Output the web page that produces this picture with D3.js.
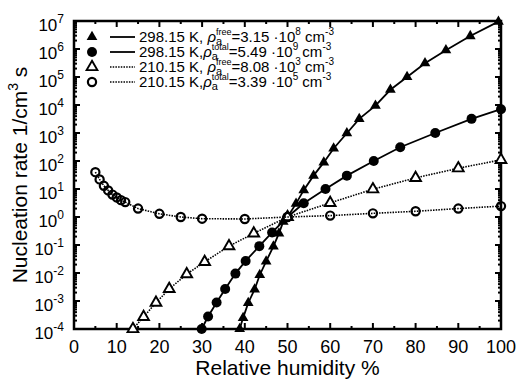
<!DOCTYPE html>
<html lang="en">
<head>
<meta charset="UTF-8">
<title>Nucleation rate vs relative humidity</title>
<script src="https://cdnjs.cloudflare.com/ajax/libs/d3/7.8.5/d3.min.js"></script>
<style>
  body { margin: 0; background: #fff; }
  svg { display: block; font-family: "Liberation Sans", Arial, Helvetica, sans-serif; }
</style>
</head>
<body>
<div id="chart"></div>
<script>
// values: relative humidity (%) and nucleation rate (1/cm^3 s)
const rhFree298 = [38.8, 39.6, 40.8, 42.3, 43.5, 45.0, 46.7, 48.0, 49.0, 50.0, 52.0, 53.8, 56.1, 58.5, 60.8, 63.9, 66.8, 70.6, 74.1, 78.0, 82.2, 87.1, 92.8, 99.4];
const jFree298  = [1e-4, 2.5e-4, 8.5e-4, 2.6e-3, 8.5e-3, 2.6e-2, 8.9e-2, 0.26, 0.68, 1, 3.0, 9.1, 30, 89, 280, 980, 3.2e3, 9.5e3, 3.5e4, 1.0e5, 3.1e5, 9.1e5, 2.9e6, 9.5e6];

const rhTotal298 = [29.9, 31.4, 33.4, 35.4, 37.8, 40.2, 43.4, 46.4, 50.0, 53.8, 58.9, 63.9, 70.2, 76.4, 84.6, 93.1, 100];
const jTotal298  = [1e-4, 2.8e-4, 8.9e-4, 2.7e-3, 9.5e-3, 2.7e-2, 9.1e-2, 0.28, 1, 3.1, 10, 30, 100, 310, 1.0e3, 3.2e3, 7.1e3];

const rhFree210 = [13.8, 16.3, 19.2, 22.3, 26.4, 30.6, 36.3, 42.1, 50, 60, 70, 80, 90, 100];
const jFree210  = [1e-4, 2.7e-4, 8.7e-4, 2.7e-3, 9.1e-3, 2.5e-2, 9.1e-2, 0.26, 1, 3.2, 9.8, 25, 55, 110];

const rhTotal210 = [5, 6, 7, 8, 9, 10, 11, 12, 15, 20, 25, 30, 40, 50, 60, 70, 80, 90, 100];
const jTotal210  = [40, 22, 13, 8.9, 6.3, 5.0, 4.0, 3.4, 2.0, 1.3, 1.0, 0.87, 0.85, 1.0, 1.12, 1.35, 1.6, 2.0, 2.45];

// legend texts (non-breaking spaces so SVG keeps them)
const legendTemp  = ["298.15\u00a0K,\u00a0", "298.15\u00a0K,", "210.15\u00a0K,\u00a0", "210.15\u00a0K,"];
const legendKind  = ["free", "total", "free", "total"];
const legendValue = ["=3.15\u00a0\u00b710", "=5.49\u00a0\u00b710", "=8.08\u00a0\u00b710", "=3.39\u00a0\u00b710"];
const legendExp   = ["8", "9", "3", "5"];

// ticks
const xTicks = [0, 10, 20, 30, 40, 50, 60, 70, 80, 90, 100];
const xMinor = [5, 15, 25, 35, 45, 55, 65, 75, 85, 95];
const yExps  = [-4, -3, -2, -1, 0, 1, 2, 3, 4, 5, 6, 7];

const width = 519, height = 379;
const m = { left: 74, right: 501, top: 21, bottom: 329 };

const svg = d3.select("#chart").append("svg")
    .attr("width", width)
    .attr("height", height);

const x = d3.scaleLinear().domain([0, 100]).range([m.left, m.right]);
const y = d3.scaleLog().domain([1e-4, 1e7]).range([m.bottom, m.top]);

// ticks, inward on all four sides
const tickG = svg.append("g").attr("stroke", "#000").attr("stroke-width", 2);
xTicks.forEach(v => {
    tickG.append("line").attr("x1", x(v)).attr("x2", x(v)).attr("y1", m.bottom).attr("y2", m.bottom - 6);
    tickG.append("line").attr("x1", x(v)).attr("x2", x(v)).attr("y1", m.top).attr("y2", m.top + 6);
});
xMinor.forEach(v => {
    tickG.append("line").attr("x1", x(v)).attr("x2", x(v)).attr("y1", m.bottom).attr("y2", m.bottom - 3);
    tickG.append("line").attr("x1", x(v)).attr("x2", x(v)).attr("y1", m.top).attr("y2", m.top + 3);
});
yExps.forEach(e => {
    const v = Math.pow(10, e);
    tickG.append("line").attr("x1", m.left).attr("x2", m.left + 6).attr("y1", y(v)).attr("y2", y(v));
    tickG.append("line").attr("x1", m.right).attr("x2", m.right - 6).attr("y1", y(v)).attr("y2", y(v));
    if (e < 7) {
        for (let k = 2; k <= 9; k++) {
            const w = k * v;
            tickG.append("line").attr("x1", m.left).attr("x2", m.left + 3).attr("y1", y(w)).attr("y2", y(w));
            tickG.append("line").attr("x1", m.right).attr("x2", m.right - 3).attr("y1", y(w)).attr("y2", y(w));
        }
    }
});

// frame
svg.append("rect")
    .attr("x", m.left).attr("y", m.top)
    .attr("width", m.right - m.left).attr("height", m.bottom - m.top)
    .attr("fill", "none").attr("stroke", "#000").attr("stroke-width", 2.5);

// tick labels
svg.append("g").selectAll("text")
    .data(xTicks)
    .enter().append("text")
    .attr("x", d => x(d))
    .attr("y", 353)
    .attr("text-anchor", "middle")
    .attr("font-size", 18)
    .text(d => d);

const yLab = svg.append("g").selectAll("text")
    .data(yExps)
    .enter().append("text")
    .attr("x", 64)
    .attr("y", d => y(Math.pow(10, d)) + 10)
    .attr("text-anchor", "end")
    .attr("font-size", 17);
yLab.append("tspan").text("10");
yLab.append("tspan").attr("dy", -8).attr("font-size", 12).text(d => d);

// axis titles
svg.append("text")
    .attr("x", (m.left + m.right) / 2)
    .attr("y", 375)
    .attr("text-anchor", "middle")
    .attr("font-size", 21)
    .text("Relative humidity %");

const yt = svg.append("text")
    .attr("transform", `translate(27,${(m.top + m.bottom) / 2}) rotate(-90)`)
    .attr("text-anchor", "middle")
    .attr("font-size", 21);
yt.append("tspan").text("Nucleation rate 1/cm");
yt.append("tspan").attr("dy", -9).attr("font-size", 14).text("3");
yt.append("tspan").attr("dy", 9).text("\u00a0s");

// series
const series = [
    { rh: rhFree298, j: jFree298, dash: null, marker: "triFilled" },
    { rh: rhTotal298, j: jTotal298, dash: null, marker: "circFilled" },
    { rh: rhFree210, j: jFree210, dash: "1.5,1.2", marker: "triOpen" },
    { rh: rhTotal210, j: jTotal210, dash: "1.5,1.2", marker: "circOpen" }
];

const line = d3.line().x(d => x(d[0])).y(d => y(d[1]));
const tri = d3.symbol().type(d3.symbolTriangle).size(50);

function drawMarker(g, kind, cx, cy) {
    if (kind === "triFilled") {
        g.append("path").attr("d", tri()).attr("transform", `translate(${cx},${cy})`).attr("fill", "#000");
    } else if (kind === "triOpen") {
        g.append("path").attr("d", tri()).attr("transform", `translate(${cx},${cy})`)
            .attr("fill", "#fff").attr("stroke", "#000").attr("stroke-width", 1.9);
    } else if (kind === "circFilled") {
        g.append("circle").attr("cx", cx).attr("cy", cy).attr("r", 5).attr("fill", "#000");
    } else {
        g.append("circle").attr("cx", cx).attr("cy", cy).attr("r", 4.1)
            .attr("fill", "none").attr("stroke", "#000").attr("stroke-width", 2.2);
    }
}

series.forEach(s => {
    const pts = s.rh.map((r, i) => [r, s.j[i]]);
    const p = svg.append("path")
        .attr("d", line(pts))
        .attr("fill", "none")
        .attr("stroke", "#000")
        .attr("stroke-width", s.dash ? 1.6 : 1.8);
    if (s.dash) p.attr("stroke-dasharray", s.dash);
    const g = svg.append("g");
    pts.forEach(d => drawMarker(g, s.marker, x(d[0]), y(d[1])));
});

// legend
const legendY = [37, 52, 67, 82];
const lg = svg.append("g");
function piece(xp, yp, str, size, italic) {
    const t = lg.append("text").attr("x", xp).attr("y", yp).attr("font-size", size).text(str);
    if (italic) t.attr("font-style", "italic");
    return t.node().getComputedTextLength();
}
series.forEach((s, i) => {
    const cy = legendY[i];
    drawMarker(lg, s.marker, 92, cy);
    const l = lg.append("line").attr("x1", 110).attr("x2", 135).attr("y1", cy).attr("y2", cy)
        .attr("stroke", "#000").attr("stroke-width", s.dash ? 1.6 : 1.8);
    if (s.dash) l.attr("stroke-dasharray", s.dash);
    const base = cy + 5;
    let xp = 139;
    xp += piece(xp, base, legendTemp[i], 15);
    xp += piece(xp, base, "\u03c1", 15, true);
    const wSub = piece(xp, base + 3, "a", 11);
    const wSup = piece(xp, base - 7, legendKind[i], 9);
    xp += Math.max(wSub, wSup);
    xp += piece(xp, base, legendValue[i], 15);
    xp += piece(xp, base - 7, legendExp[i], 10);
    xp += piece(xp, base, "\u00a0cm", 15);
    piece(xp, base - 7, "-3", 10);
});
</script>
</body>
</html>
